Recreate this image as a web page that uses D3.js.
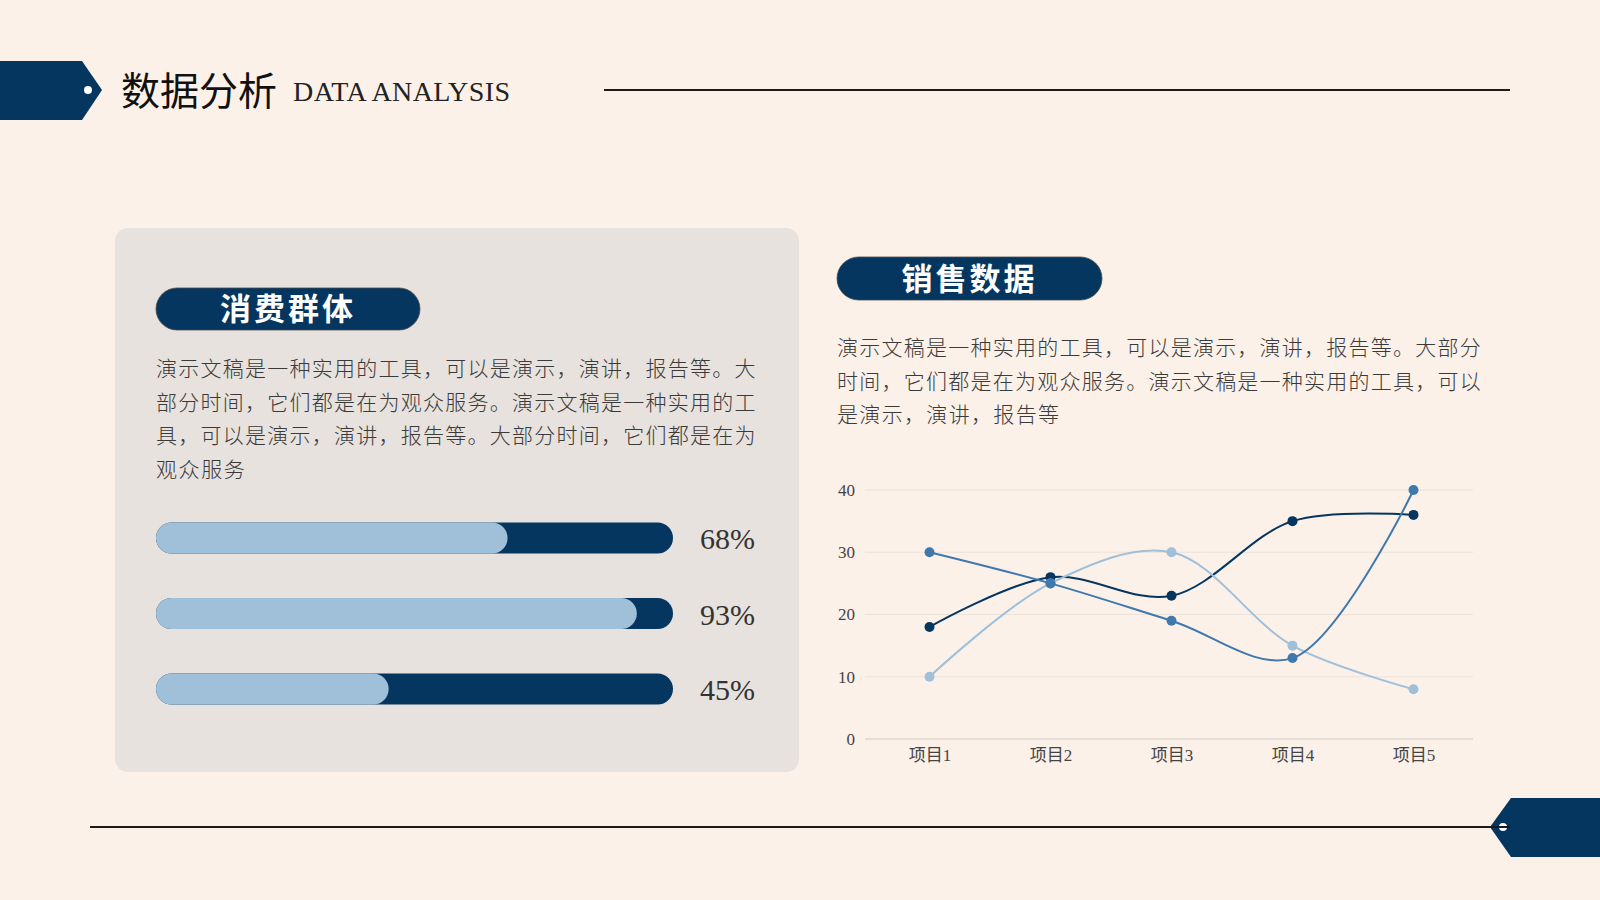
<!DOCTYPE html>
<html>
<head>
<meta charset="UTF-8">
<title>数据分析</title>
<style type="text/css">
	body { margin: 0; background: #fbf1e9; }
	svg { display: block; }
	.cjk { font-family: "Noto Sans CJK SC", sans-serif; }
	.serif { font-family: "Liberation Serif", "DejaVu Serif", "Noto Sans CJK SC", serif; }
	.para { font-size: 21px; fill: #3a3a3a; font-weight: 300; }
	.axis text { font-size: 17px; fill: #444; font-family: "Liberation Serif", "Noto Sans CJK SC", serif; }
</style>
<script type="text/javascript" src="https://cdn.jsdelivr.net/npm/d3@7/dist/d3.min.js"></script>
</head>
<body>
<div id="main"></div>
<script type="text/javascript">

	// ---- data ----
	var percents = [68, 93, 45];

	var categories = ["项目1", "项目2", "项目3", "项目4", "项目5"];
	var series1 = [18, 26, 23, 35, 36];
	var series2 = [30, 25, 19, 13, 40];
	var series3 = [10, 25, 30, 15, 8];
	var yTicks = [0, 10, 20, 30, 40];

	var leftText = [
		"演示文稿是一种实用的工具，可以是演示，演讲，报告等。大",
		"部分时间，它们都是在为观众服务。演示文稿是一种实用的工",
		"具，可以是演示，演讲，报告等。大部分时间，它们都是在为",
		"观众服务"
	];
	var rightText = [
		"演示文稿是一种实用的工具，可以是演示，演讲，报告等。大部分",
		"时间，它们都是在为观众服务。演示文稿是一种实用的工具，可以",
		"是演示，演讲，报告等"
	];

	var navy = "#04365f", mid = "#3f78ad", light = "#a0bfd9";

	var W = 1600, H = 900;
	var svg = d3.select("#main").append("svg")
		.attr("width", W).attr("height", H);

	svg.append("rect").attr("width", W).attr("height", H).attr("fill", "#fbf1e9");

	// ---- header ----
	svg.append("path")
		.attr("d", "M0,61 L82,61 L102,90 L82,120 L0,120 Z")
		.attr("fill", navy);
	svg.append("circle").attr("cx", 88).attr("cy", 90).attr("r", 4).attr("fill", "#fff");

	svg.append("text").attr("class", "cjk")
		.attr("x", 121).attr("y", 105)
		.attr("font-size", 39).attr("fill", "#111")
		.text("数据分析");
	svg.append("text").attr("class", "serif")
		.attr("x", 293).attr("y", 101)
		.attr("font-size", 28).attr("fill", "#222")
		.attr("textLength", 217)
		.text("DATA ANALYSIS");

	svg.append("line")
		.attr("x1", 604).attr("x2", 1510).attr("y1", 90).attr("y2", 90)
		.attr("stroke", "#1b1b1b").attr("stroke-width", 2);

	// ---- footer ----
	svg.append("line")
		.attr("x1", 90).attr("x2", 1510).attr("y1", 827).attr("y2", 827)
		.attr("stroke", "#1b1b1b").attr("stroke-width", 2);
	svg.append("path")
		.attr("d", "M1600,798 L1511,798 L1490,827 L1511,857 L1600,857 Z")
		.attr("fill", navy);
	svg.append("circle").attr("cx", 1503).attr("cy", 827).attr("r", 4).attr("fill", "#fff");
	svg.append("line")
		.attr("x1", 1490).attr("x2", 1510).attr("y1", 827).attr("y2", 827)
		.attr("stroke", "#1b1b1b").attr("stroke-width", 2);

	// ---- left panel ----
	svg.append("rect")
		.attr("x", 115).attr("y", 228).attr("width", 684).attr("height", 544)
		.attr("rx", 13).attr("fill", "#e7e2dd");

	function pill(x, y, w, h, label) {
		svg.append("rect")
			.attr("x", x).attr("y", y).attr("width", w).attr("height", h)
			.attr("rx", h / 2).attr("fill", navy)
			.attr("stroke", "#4a4a4a").attr("stroke-width", 0.8);
		svg.append("text").attr("class", "cjk")
			.attr("x", x + w / 2).attr("y", y + h / 2 + 11)
			.attr("text-anchor", "middle")
			.attr("font-size", 31).attr("font-weight", "bold")
			.attr("letter-spacing", 3)
			.attr("fill", "#fff")
			.text(label);
	}

	pill(156, 288, 264, 42, "消费群体");
	pill(837, 257, 265, 43, "销售数据");

	svg.selectAll("text.left-para")
		.data(leftText)
		.enter()
		.append("text")
			.attr("class", "left-para para cjk")
			.attr("x", 156)
			.attr("y", function (d, i) { return 376 + i * 33.7; })
			.attr("textLength", function (d) { return d.length * 22.2; })
			.text(function (d) { return d; });

	svg.selectAll("text.right-para")
		.data(rightText)
		.enter()
		.append("text")
			.attr("class", "right-para para cjk")
			.attr("x", 837)
			.attr("y", function (d, i) { return 355 + i * 33.7; })
			.attr("textLength", function (d) { return d.length * 22.2; })
			.text(function (d) { return d; });

	// ---- progress bars ----
	var scaleP = d3.scaleLinear().domain([0, 100]).range([156, 673]);
	var scaleRow = d3.scalePoint().domain(d3.range(percents.length)).range([538, 689]);
	var barH = 31;

	var rows = svg.selectAll("g.bar")
		.data(percents)
		.enter()
		.append("g")
			.attr("class", "bar")
			.attr("transform", function (d, i) { return "translate(0," + scaleRow(i) + ")"; });

	rows.append("rect")
		.attr("x", scaleP(0)).attr("y", -barH / 2)
		.attr("width", scaleP(100) - scaleP(0)).attr("height", barH)
		.attr("rx", barH / 2).attr("fill", navy);
	rows.append("rect")
		.attr("x", scaleP(0)).attr("y", -barH / 2)
		.attr("width", function (d) { return scaleP(d) - scaleP(0); }).attr("height", barH)
		.attr("rx", barH / 2).attr("fill", light);
	rows.append("text")
		.attr("class", "serif")
		.attr("x", 700).attr("y", 11)
		.attr("font-size", 30).attr("fill", "#333")
		.text(function (d) { return d + "%"; });

	// ---- line chart ----
	var scaleX = d3.scalePoint().domain(categories).range([869, 1474]).padding(0.5);
	var scaleY = d3.scaleLinear().domain([0, 40]).range([739, 490]);

	svg.append("g")
		.attr("class", "grid")
		.selectAll("line")
		.data(yTicks)
		.enter()
		.append("line")
			.attr("x1", 865).attr("x2", 1473)
			.attr("y1", function (d) { return scaleY(d); })
			.attr("y2", function (d) { return scaleY(d); })
			.attr("stroke", function (d) { return d === 0 ? "#cfc8c2" : "#ebe2da"; })
			.attr("stroke-width", 1);

	var axisY = d3.axisLeft(scaleY).tickValues(yTicks).tickSize(0).tickPadding(10);
	svg.append("g")
		.attr("class", "y axis")
		.attr("transform", "translate(865,0)")
		.call(axisY)
		.call(function (g) { g.select(".domain").remove(); });

	var axisX = d3.axisBottom(scaleX).tickSize(0).tickPadding(10);
	svg.append("g")
		.attr("class", "x axis")
		.attr("transform", "translate(0,739)")
		.call(axisX)
		.call(function (g) { g.select(".domain").remove(); });

	var lineGen = d3.line()
		.x(function (d, i) { return scaleX(categories[i]); })
		.y(function (d) { return scaleY(d); })
		.curve(d3.curveCatmullRom.alpha(0.5));

	var seriesList = [
		{ values: series1, color: navy },
		{ values: series3, color: light },
		{ values: series2, color: mid }
	];

	seriesList.forEach(function (s) {
		svg.append("path")
			.datum(s.values)
			.attr("d", lineGen)
			.attr("fill", "none")
			.attr("stroke", s.color)
			.attr("stroke-width", 2);
		svg.selectAll(null)
			.data(s.values)
			.enter()
			.append("circle")
				.attr("cx", function (d, i) { return scaleX(categories[i]); })
				.attr("cy", function (d) { return scaleY(d); })
				.attr("r", 5)
				.attr("fill", s.color);
	});

</script>
</body>
</html>
